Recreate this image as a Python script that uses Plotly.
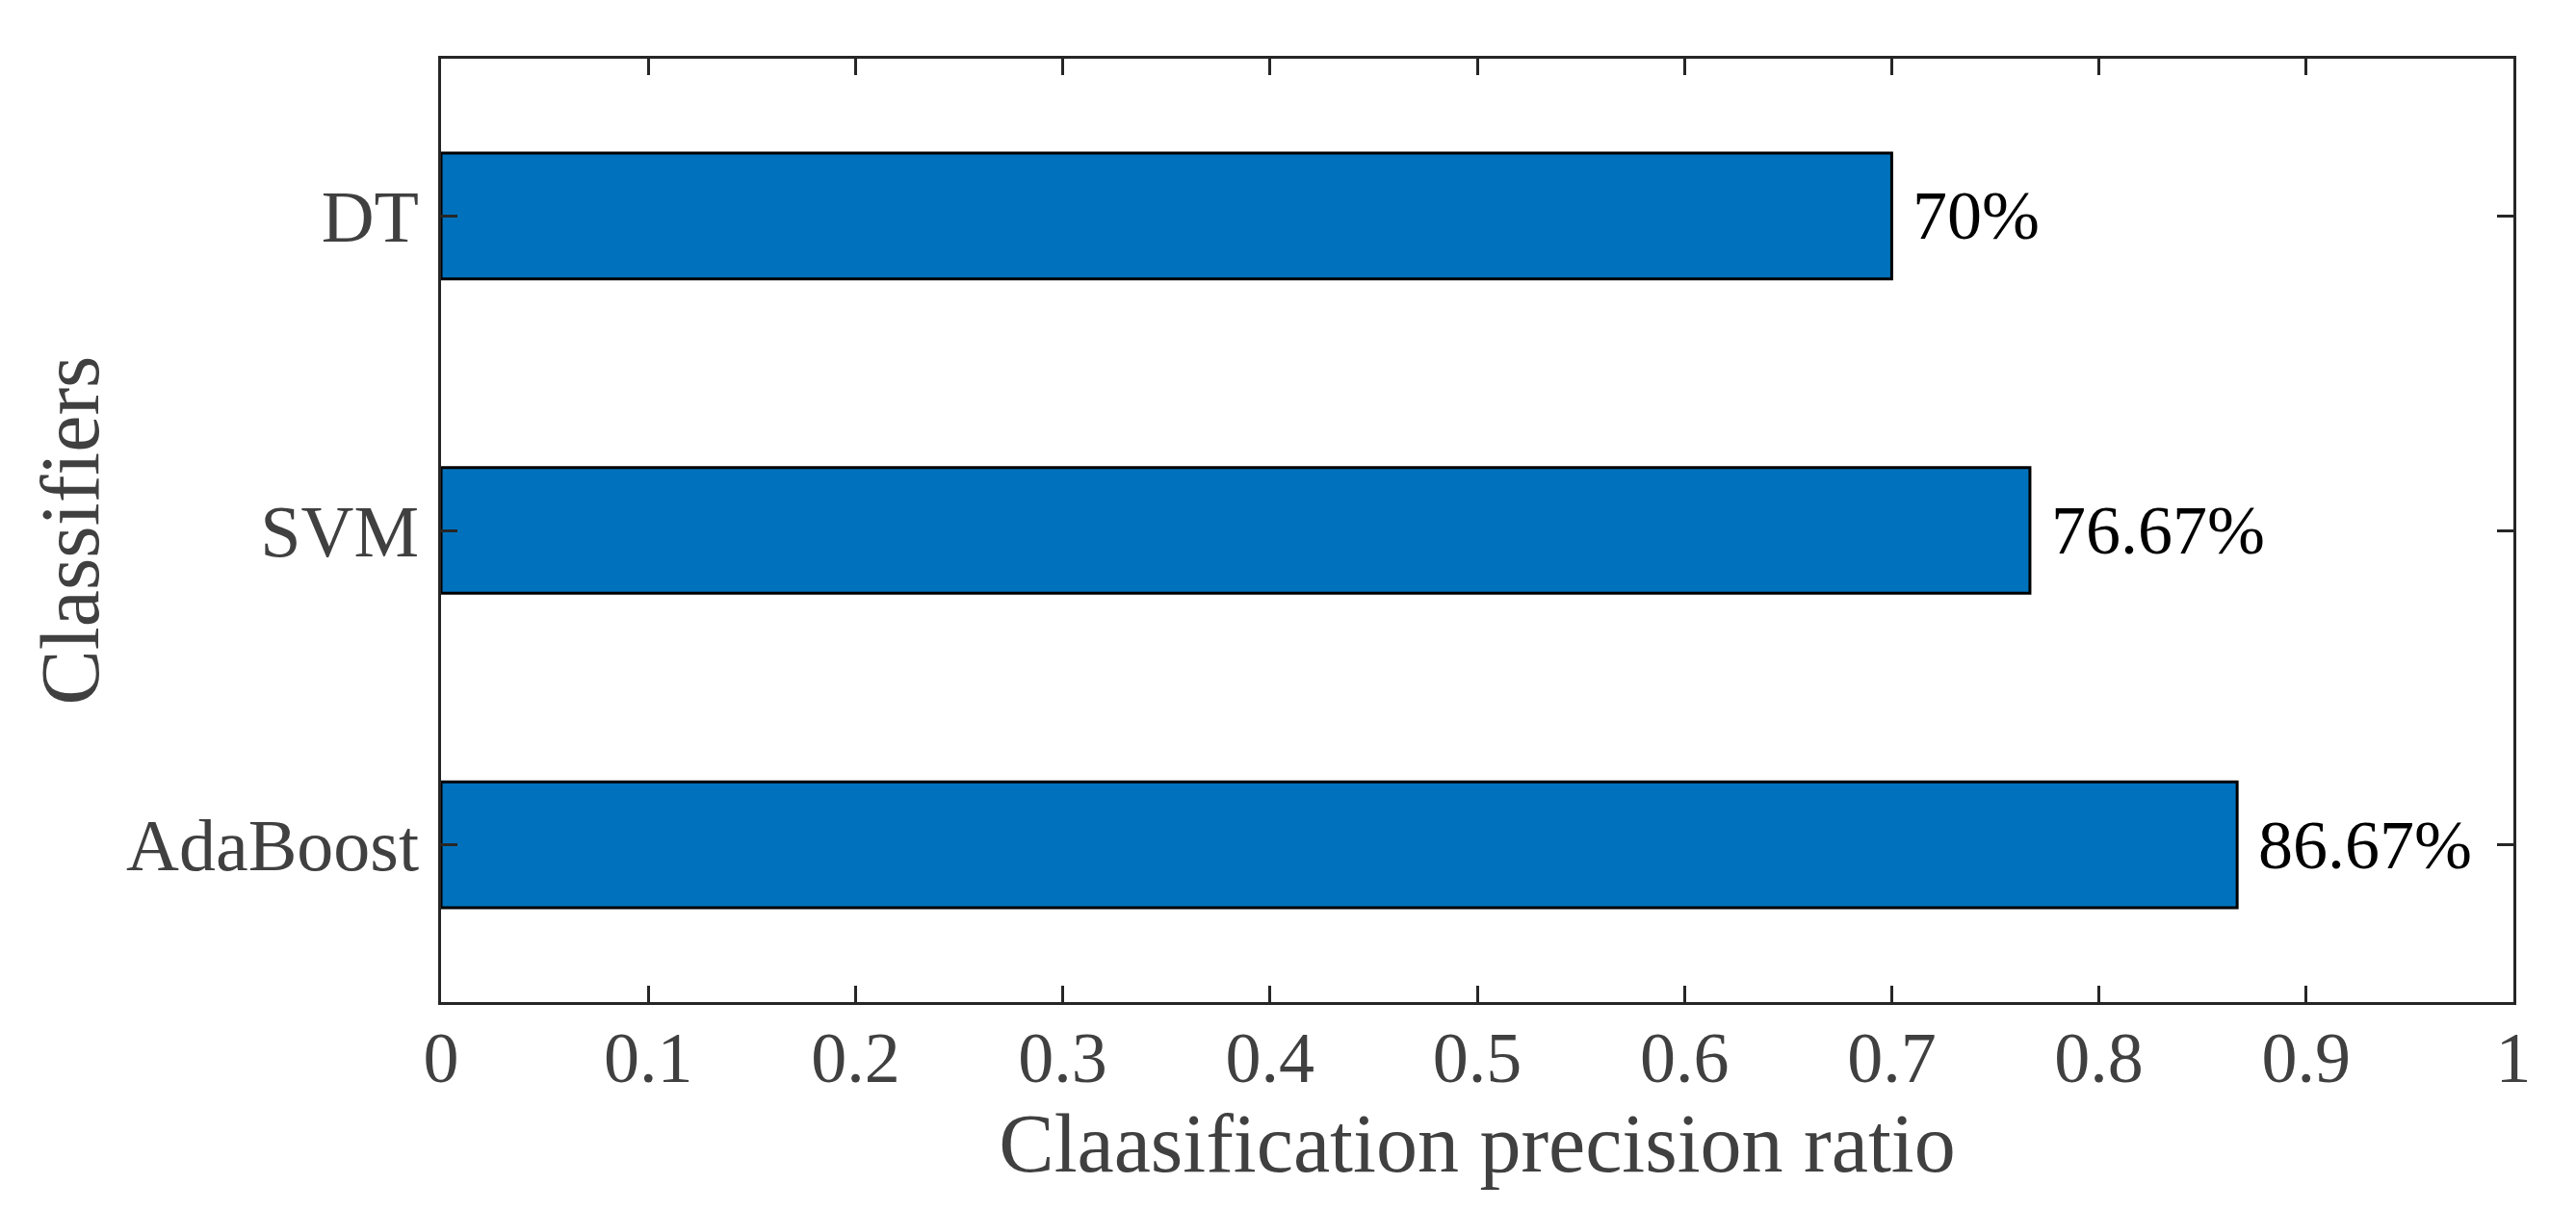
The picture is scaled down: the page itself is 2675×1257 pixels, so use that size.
import plotly.graph_objects as go

classifiers = ["AdaBoost", "SVM", "DT"]
precision = [0.8667, 0.7667, 0.70]
labels = ["86.67%", "76.67%", "70%"]
x_ticks = [0, 0.1, 0.2, 0.3, 0.4, 0.5, 0.6, 0.7, 0.8, 0.9, 1]
x_tick_text = ["0", "0.1", "0.2", "0.3", "0.4", "0.5", "0.6", "0.7", "0.8", "0.9", "1"]

FONT = "Liberation Serif"
GREY = "#404040"

fig = go.Figure()
fig.add_trace(go.Bar(
    x=precision, y=classifiers, orientation="h", width=0.4,
    marker=dict(color="#0072BD", line=dict(color="black", width=3)),
    hoverinfo="skip",
))

for xv, yv, t in zip(precision, classifiers, labels):
    fig.add_annotation(x=xv, y=yv, text=t, showarrow=False, xanchor="left",
                       yanchor="middle", xshift=20,
                       font=dict(family=FONT, size=72, color="black"))

fig.update_layout(
    width=2675, height=1257,
    margin=dict(l=450, r=73, t=53, b=224),
    plot_bgcolor="white", paper_bgcolor="white",
    showlegend=False,
    font=dict(family=FONT, color=GREY),
)
fig.update_xaxes(
    range=[0, 1], tickvals=x_ticks, ticktext=x_tick_text,
    ticks="inside", ticklen=17, tickwidth=2.5, tickcolor="#262626",
    showline=True, linecolor="#262626", linewidth=2.5, mirror="ticks",
    showgrid=False, zeroline=False,
    tickfont=dict(family=FONT, size=74, color=GREY),
    ticklabelstandoff=-9,
    title=dict(text="Claasification precision ratio", font=dict(family=FONT, size=86, color=GREY), standoff=16),
)
fig.update_yaxes(
    type="category", categoryorder="array", categoryarray=classifiers,
    range=[-0.5, 2.5],
    ticks="inside", ticklen=17, tickwidth=2.5, tickcolor="#262626",
    showline=True, linecolor="#262626", linewidth=2.5, mirror="ticks",
    showgrid=False, zeroline=False,
    tickfont=dict(family=FONT, size=76, color=GREY),
    ticklabelstandoff=5,
    title=dict(text="Classifiers", font=dict(family=FONT, size=86, color=GREY), standoff=0),
)

fig.write_html("out.html")
